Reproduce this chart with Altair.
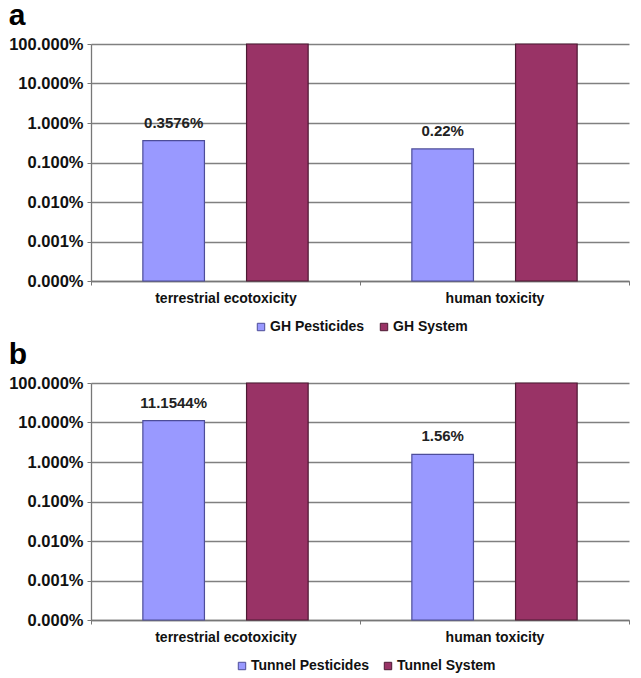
import altair as alt
import pandas as pd

categories = ["terrestrial ecotoxicity", "human toxicity"]

series_a = ["GH Pesticides", "GH System"]
pesticides_a = [0.003576, 0.0022]   # fractions (0.3576 %, 0.22 %)
system_a = [1.0, 1.0]
labels_a = ["0.3576%", "0.22%"]

series_b = ["Tunnel Pesticides", "Tunnel System"]
pesticides_b = [0.111544, 0.0156]   # 11.1544 %, 1.56 %
system_b = [1.0, 1.0]
labels_b = ["11.1544%", "1.56%"]

tick_values = [1e-6, 1e-5, 1e-4, 1e-3, 1e-2, 1e-1, 1.0]
y_floor = 1e-6

fill_colors = ["#9999FF", "#993366"]
stroke_colors = ["#4d4d99", "#4d1a33"]

FONT = "Liberation Sans"


def make_df(series, pest, syst, labels):
    rows = []
    for i, c in enumerate(categories):
        rows.append({"category": c, "series": series[0], "value": pest[i],
                     "base": y_floor, "label": labels[i]})
        rows.append({"category": c, "series": series[1], "value": syst[i],
                     "base": y_floor, "label": ""})
    return pd.DataFrame(rows)


def panel(letter, series, pest, syst, labels, legend_x):
    df = make_df(series, pest, syst, labels)
    base = alt.Chart(df)
    x = alt.X("category:N", sort=categories,
              scale=alt.Scale(paddingInner=0, paddingOuter=0),
              axis=alt.Axis(title=None, labelAngle=0, labelFontSize=14,
                            labelFontWeight="bold", labelColor="#111",
                            labelFont=FONT, labelPadding=6,
                            tickBand="extent", tickSize=4, tickColor="#777",
                            domainColor="#777", domainWidth=1.3))
    xo = alt.XOffset("series:N", sort=series,
                     scale=alt.Scale(paddingInner=0.406, paddingOuter=0.5))
    y = alt.Y("value:Q",
              scale=alt.Scale(type="log", domain=[1e-6, 1.0]),
              axis=alt.Axis(title=None, values=tick_values, format=".3%",
                            labelFontSize=16.5, labelFontWeight="bold",
                            labelColor="#111", labelFont=FONT,
                            labelPadding=4, tickSize=4, tickColor="#777",
                            domainColor="#777", domainWidth=1.3,
                            gridColor="#808080", gridWidth=1.3))
    bars = base.mark_bar(strokeWidth=1.2).encode(
        x=x, xOffset=xo, y=y, y2="base:Q",
        color=alt.Color("series:N", sort=series,
                        scale=alt.Scale(domain=series, range=fill_colors),
                        legend=alt.Legend(title=None, orient="none",
                                          direction="horizontal",
                                          legendX=legend_x, legendY=276,
                                          symbolType="square", symbolSize=55,
                                          symbolStrokeColor="#444",
                                          symbolStrokeWidth=1,
                                          labelFontSize=14, labelFontWeight="bold",
                                          labelFont=FONT, labelColor="#111",
                                          labelOffset=2, columnPadding=12)),
        stroke=alt.Stroke("series:N", sort=series,
                          scale=alt.Scale(domain=series, range=stroke_colors),
                          legend=None),
    )
    text = base.transform_filter(alt.datum.label != "").mark_text(
        dy=-10, fontSize=15, fontWeight="bold", font=FONT, color="#222",
        baseline="bottom"
    ).encode(x=x, xOffset=xo, y=y, text="label:N")
    return alt.layer(bars, text).resolve_scale(xOffset="shared").properties(
        width=538, height=237,
        title=alt.TitleParams(letter, anchor="start", frame="bounds",
                              fontSize=30, fontWeight="bold", font=FONT,
                              color="#000", offset=5),
    )


chart = alt.vconcat(
    panel("a", series_a, pesticides_a, system_a, labels_a, 163),
    panel("b", series_b, pesticides_b, system_b, labels_b, 144),
    spacing=6,
).resolve_scale(color="independent", stroke="independent",
                x="independent", xOffset="independent").properties(
    padding={"left": 0, "right": 0, "top": -7, "bottom": 0}
).configure_view(stroke=None).configure_legend(padding=0)

chart.save("out.html", embed_options={"renderer": "svg", "actions": False})
